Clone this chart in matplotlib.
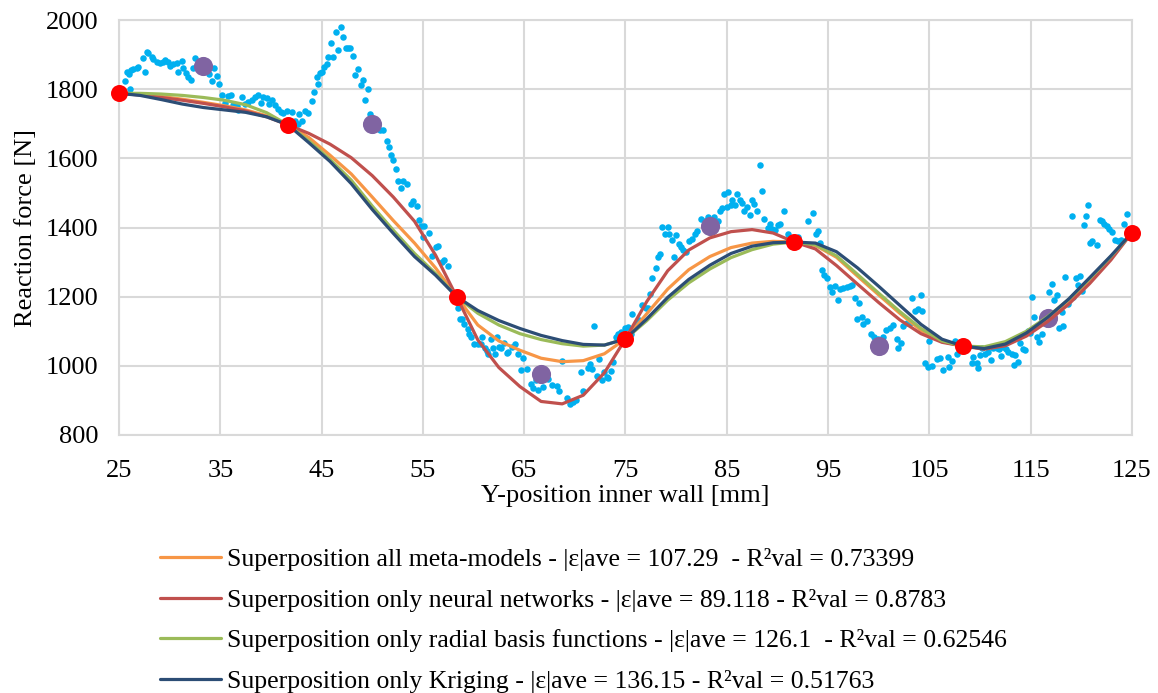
import matplotlib
matplotlib.use("Agg")
import matplotlib.pyplot as plt

# ---- data ----
x_curve = [25, 27.08, 29.17, 31.25, 33.33, 35.42, 37.5, 39.58, 41.67, 43.75, 45.83, 47.92,
           50, 52.08, 54.17, 56.25, 58.33, 60.42, 62.5, 64.58, 66.67, 68.75, 70.83, 72.92,
           75, 77.08, 79.17, 81.25, 83.33, 85.42, 87.5, 89.58, 91.67, 93.75, 95.83, 97.92,
           100, 102.08, 104.17, 106.25, 108.33, 110.42, 112.5, 114.58, 116.67, 118.75,
           120.83, 122.92, 125]

y_all = [1788, 1785, 1779, 1771, 1762, 1752, 1740, 1723, 1697, 1660, 1609, 1555,
         1488, 1420, 1355, 1283, 1200, 1118, 1072, 1045, 1022, 1012, 1015, 1035,
         1078, 1150, 1222, 1278, 1316, 1342, 1355, 1360, 1358, 1348, 1314, 1259,
         1205, 1152, 1103, 1070, 1057, 1050, 1062, 1092, 1135, 1186,
         1246, 1312, 1385]
y_nn = [1788, 1783, 1776, 1768, 1759, 1749, 1737, 1720, 1697, 1672, 1641, 1602,
        1550, 1488, 1418, 1320, 1200, 1075, 995, 940, 897, 890, 915, 980,
        1078, 1185, 1275, 1335, 1370, 1388, 1394, 1384, 1358, 1338, 1290, 1236,
        1183, 1133, 1093, 1068, 1057, 1048, 1058, 1086, 1128, 1178,
        1238, 1306, 1385]
y_rbf = [1788, 1788, 1786, 1782, 1776, 1768, 1755, 1732, 1697, 1650, 1597, 1537,
         1462, 1392, 1325, 1267, 1200, 1152, 1118, 1093, 1076, 1064, 1057, 1060,
         1078, 1130, 1190, 1240, 1280, 1313, 1336, 1352, 1358, 1350, 1318, 1264,
         1210, 1157, 1108, 1072, 1057, 1055, 1070, 1100, 1142, 1192,
         1252, 1316, 1385]
y_krig = [1788, 1782, 1770, 1757, 1747, 1740, 1733, 1720, 1697, 1645, 1591, 1527,
          1452, 1383, 1316, 1262, 1200, 1160, 1131, 1108, 1088, 1073, 1062, 1060,
          1078, 1135, 1198, 1250, 1291, 1325, 1346, 1356, 1358, 1355, 1330, 1283,
          1230, 1175, 1120, 1077, 1057, 1050, 1063, 1095, 1140, 1193,
          1255, 1318, 1385]

x_train = [25, 41.67, 58.33, 75, 91.67, 108.33, 125]
y_train = [1788, 1697, 1200, 1078, 1358, 1057, 1385]

x_valid = [33.33, 50, 66.67, 83.33, 100, 116.67]
y_valid = [1868, 1700, 977, 1404, 1056, 1137]

x_meas = [25.60, 25.76, 25.99, 26.08, 26.18, 26.41, 26.74, 26.91, 27.40, 27.57, 27.73, 27.90,
          28.22, 28.39, 28.72, 29.05, 29.38, 29.54, 29.87, 30.03, 30.36, 30.69, 30.86, 31.19,
          31.35, 31.58, 31.84, 32.11, 32.34, 32.50, 33.88, 34.21, 34.41, 34.64, 34.87, 35.20,
          35.46, 35.79, 36.06, 36.29, 36.62, 36.78, 37.18, 37.44, 37.77, 38.10, 38.43, 38.75,
          39.02, 39.25, 39.58, 39.81, 40.14, 40.40, 40.73, 40.96, 41.22, 41.55,
          42.11, 42.37, 42.64, 42.77, 43.10, 43.36, 43.62, 44.02, 44.28, 44.51, 44.68, 44.84,
          45.07, 45.27, 45.50, 45.66, 45.93, 46.16, 46.39, 46.65, 46.91, 47.15, 47.38, 47.64,
          47.84, 48.07, 48.30, 48.56, 48.89, 49.12, 49.28, 49.55, 49.78, 50.77, 51.09, 51.42,
          51.65, 51.85, 52.08, 52.34, 52.57, 52.84, 53.07, 53.40, 53.83, 54.06, 54.39, 54.61,
          54.81, 55.14, 55.04, 55.60, 55.87, 56.26, 56.52, 56.85, 57.12, 57.44, 58.50, 58.66,
          58.83, 59.09, 59.42, 59.55, 59.75, 60.08, 60.41, 60.74, 60.87, 61.13, 61.30, 61.46,
          61.72, 61.95, 62.12, 62.28, 62.51, 62.71, 63.04, 63.27, 63.43, 63.76, 64.09, 64.42,
          64.68, 64.91, 65.24, 65.67, 65.90, 66.13, 66.33, 66.89, 67.38, 67.78, 68.20, 68.44,
          68.70, 69.19, 69.52, 69.85, 70.08, 70.61, 70.84, 71.27, 71.50, 71.73, 71.92, 72.15,
          72.38, 72.65, 72.91, 73.14, 73.31, 73.57, 73.80, 74.03, 74.29, 74.56, 74.95,
          75.21, 75.68, 75.54, 76.10, 76.33, 76.66, 76.99, 77.19, 77.42, 77.65, 77.98, 78.18,
          78.41, 78.64, 78.90, 79.16, 79.29, 79.62, 79.82, 79.95, 80.28, 80.48, 80.71, 80.94,
          81.27, 81.53, 81.86, 82.03, 82.45, 82.85, 83.11, 83.77, 84.10, 84.33, 84.56, 84.76,
          84.99, 85.15, 85.42, 85.55, 85.81, 85.98, 86.30, 86.53, 86.73, 86.96, 87.29, 87.52,
          87.72, 87.95, 88.28, 88.44, 88.71, 89.03, 89.27, 89.50, 89.76, 90.02, 90.25, 90.68,
          91.07, 92.06, 93.05, 93.54, 93.77, 93.97, 94.20, 94.43, 94.63, 94.86, 95.19, 95.42,
          95.68, 95.95, 96.18, 96.50, 96.83, 97.16, 97.39, 97.66, 98.05, 97.82, 98.31, 98.48,
          98.81, 99.24, 99.56, 99.96, 100.45, 100.68, 101.11, 101.44, 101.77, 101.93, 102.20,
          102.43, 102.76, 103.09, 103.32, 103.58, 103.84, 104.17, 104.30, 104.96, 104.57,
          104.90, 105.29, 105.72, 106.05, 106.38, 106.80, 106.94, 107.20, 107.53, 107.69,
          108.84, 109.34, 109.17, 109.67, 109.76, 110.00, 110.23, 110.49, 110.75, 111.08,
          111.31, 111.64, 111.87, 112.07, 112.30, 112.53, 112.79, 113.12, 113.45, 113.38,
          113.78, 113.94, 114.27, 114.44, 114.77, 114.93, 115.16, 115.36, 115.59, 115.82,
          116.08, 116.58, 116.81, 117.07, 117.33, 117.56, 117.79, 118.06, 118.22, 118.39,
          118.65, 119.21, 119.44, 119.64, 119.87, 120.03, 119.04, 120.29, 120.43, 120.69,
          120.85, 121.08, 121.51, 121.84, 122.00, 122.27, 122.50, 122.73, 122.99, 123.32,
          123.65, 123.91, 124.24, 124.47]
y_meas = [1824, 1849, 1843, 1801, 1856, 1859, 1862, 1865, 1889, 1849, 1907, 1904,
          1894, 1887, 1880, 1875, 1878, 1885, 1880, 1868, 1872, 1875, 1851, 1882,
          1861, 1846, 1836, 1827, 1862, 1891, 1843, 1824, 1862, 1839, 1814, 1782,
          1760, 1779, 1784, 1755, 1750, 1740, 1776, 1757, 1762, 1769, 1776, 1784,
          1760, 1776, 1774, 1757, 1769, 1753, 1743, 1734, 1731, 1736,
          1734, 1709, 1699, 1728, 1709, 1736, 1731, 1766, 1793, 1836, 1814, 1846,
          1849, 1865, 1872, 1894, 1933, 1894, 1966, 1913, 1981, 1952, 1918, 1918,
          1918, 1897, 1841, 1859, 1811, 1827, 1769, 1801, 1728, 1683, 1683, 1651,
          1632, 1610, 1596, 1570, 1534, 1514, 1534, 1526, 1468, 1476, 1461, 1423,
          1404, 1404, 1372, 1384, 1317, 1343, 1346, 1301, 1305, 1288, 1168, 1134,
          1134, 1120, 1106, 1093, 1083, 1064, 1064, 1062, 1083, 1053, 1043, 1035,
          1077, 1051, 1034, 1083, 1055, 1053, 1067, 1038, 1041, 1055, 1062, 1035,
          987, 1024, 990, 947, 937, 958, 930, 939, 961, 945, 942, 926,
          1014, 908, 889, 894, 901, 983, 928, 995, 1005, 990, 1115, 971,
          1019, 958, 981, 968, 964, 985, 1012, 1083, 1091, 1099, 1110,
          1112, 1151, 1093, 1120, 1132, 1176, 1168, 1166, 1208, 1253, 1284, 1314,
          1324, 1401, 1380, 1401, 1380, 1365, 1314, 1378, 1351, 1343, 1336, 1330,
          1362, 1368, 1380, 1391, 1426, 1418, 1430, 1430, 1420, 1447, 1457, 1497,
          1459, 1503, 1464, 1481, 1466, 1497, 1481, 1471, 1449, 1459, 1435, 1481,
          1468, 1449, 1582, 1507, 1426, 1399, 1410, 1397, 1394, 1407, 1409, 1447,
          1380, 1372, 1420, 1442, 1382, 1389, 1356, 1276, 1264, 1255, 1228, 1214,
          1231, 1189, 1221, 1224, 1228, 1231, 1234, 1195, 1183, 1134, 1141, 1122,
          1130, 1093, 1082, 1077, 1082, 1103, 1108, 1118, 1077, 1053, 1067,
          1115, 1125, 1125, 1195, 1158, 1163, 1205, 1158, 1072, 1009,
          997, 1000, 1019, 1022, 987, 1026, 997, 1014, 1072, 1033,
          1055, 1026, 1009, 1007, 995, 1032, 1051, 1033, 1041, 1016,
          1053, 1053, 1048, 1029, 1055, 1048, 1041, 1033, 1032, 1003,
          1012, 1067, 1048, 1045, 1101, 1096, 1199, 1141, 1082, 1070,
          1093, 1122, 1214, 1237, 1189, 1205, 1110, 1157, 1115, 1257,
          1180, 1199, 1253, 1234, 1259, 1216, 1433, 1407, 1433, 1466,
          1356, 1360, 1349, 1423, 1418, 1410, 1404, 1397, 1387, 1365,
          1360, 1365, 1409, 1439]

labels = [
    "Superposition all meta-models - |\u03b5|ave = 107.29  - R\u00b2val = 0.73399",
    "Superposition only neural networks - |\u03b5|ave = 89.118 - R\u00b2val = 0.8783",
    "Superposition only radial basis functions - |\u03b5|ave = 126.1  - R\u00b2val = 0.62546",
    "Superposition only Kriging - |\u03b5|ave = 136.15 - R\u00b2val = 0.51763",
]
colors = ["#F79646", "#C0504D", "#9BBB59", "#2C4D75"]

x_ticks = [25, 35, 45, 55, 65, 75, 85, 95, 105, 115, 125]
y_ticks = [800, 1000, 1200, 1400, 1600, 1800, 2000]

# ---- plot ----
plt.rcParams['font.family'] = ['Liberation Serif', 'DejaVu Serif']
fig = plt.figure(figsize=(11.58, 6.93), dpi=100)
ax = fig.add_axes([0.1028, 0.3723, 0.8747, 0.5988])

ax.scatter(x_meas, y_meas, s=22, color="#00B0F0", linewidths=0, zorder=3)
ax.scatter(x_valid, y_valid, s=190, color="#8064A2", linewidths=0, zorder=4)

handles = []
for yv, c, lab in zip([y_all, y_nn, y_rbf, y_krig], colors, labels):
    h, = ax.plot(x_curve, yv, color=c, lw=2.3, label=lab, zorder=5,
                 solid_capstyle='round', solid_joinstyle='round')
    handles.append(h)

ax.scatter(x_train, y_train, s=150, color="#FF0000", linewidths=0, zorder=6,
           clip_on=False)

ax.set_xlim(25, 125)
ax.set_ylim(800, 2000)
ax.set_xticks(x_ticks)
ax.set_yticks(y_ticks)
ax.grid(True, color="#D9D9D9", lw=1.5)
ax.set_axisbelow(True)
for s in ax.spines.values():
    s.set_color("#D9D9D9")
    s.set_linewidth(1.5)
ax.tick_params(length=0, labelsize=19)
ax.tick_params(axis='y', pad=15)
ax.tick_params(axis='x', pad=18)
ax.set_xlabel("Y-position inner wall [mm]", fontsize=19, labelpad=2)
ax.set_ylabel("Reaction force [N]", fontsize=19, labelpad=6)

fig.legend(handles=handles, loc="upper left", bbox_to_anchor=(0.138, 0.209),
           frameon=False, fontsize=18.5, handlelength=2.4, handletextpad=0.23,
           labelspacing=0.68, borderaxespad=0, borderpad=0)

fig.savefig("out.png", dpi=100)
